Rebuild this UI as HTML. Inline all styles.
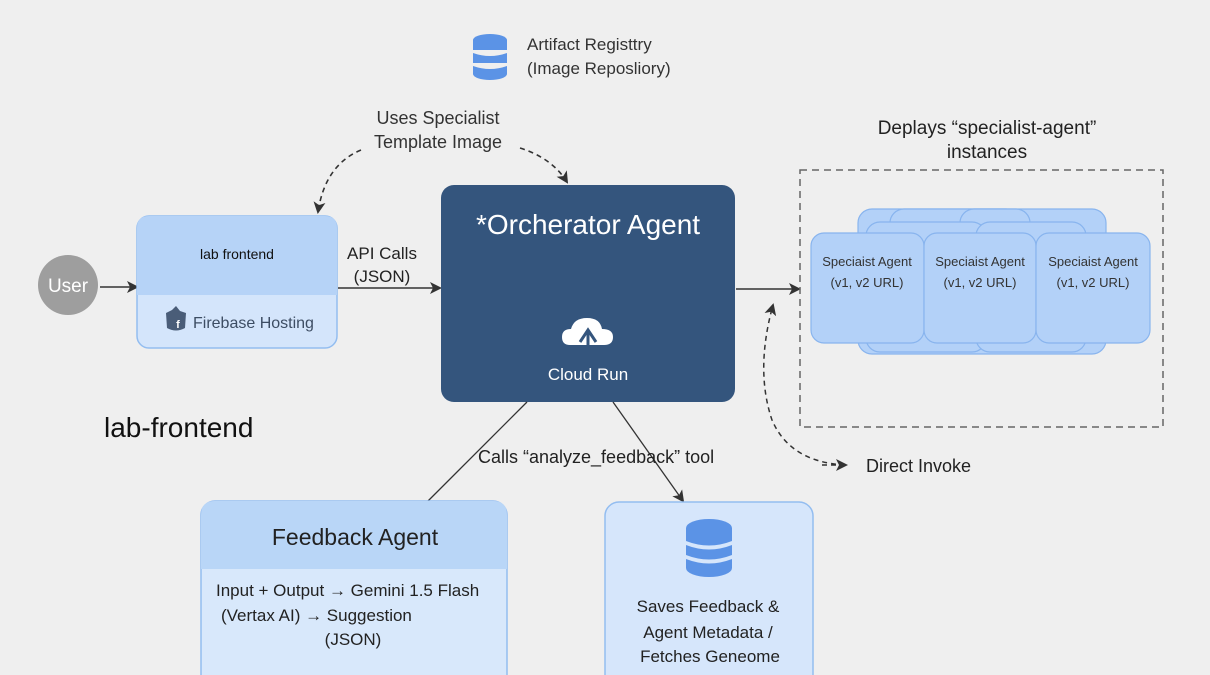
<!DOCTYPE html>
<html><head><meta charset="utf-8"><style>
html,body{margin:0;padding:0;background:#efefef;}
svg{display:block;font-family:"Liberation Sans","DejaVu Sans",sans-serif;}
</style></head><body>
<svg width="1210" height="675" viewBox="0 0 1210 675" xmlns="http://www.w3.org/2000/svg">
<defs>
<marker id="ah" markerWidth="12" markerHeight="12" refX="10" refY="6" orient="auto" markerUnits="userSpaceOnUse">
<path d="M0,0 L12,6 L0,12 L3,6 Z" fill="#333"/></marker>
</defs>
<rect width="1210" height="675" fill="#efefef"/>

<g fill="#5b93e6">
<ellipse cx="490" cy="40" rx="17" ry="6"/>
<rect x="473" y="40" width="34" height="10"/>
<rect x="473" y="53" width="34" height="10"/>
<rect x="473" y="66" width="34" height="8"/>
<ellipse cx="490" cy="74" rx="17" ry="6"/>
</g>
<g fill="#efefef"><path d="M473,50 Q490,56 507,50 L507,53 Q490,59 473,53Z"/><path d="M473,63 Q490,69 507,63 L507,66 Q490,72 473,66Z"/></g>
<text x="527" y="50" font-size="17" fill="#333">Artifact Registtry</text>
<text x="527" y="74" font-size="17" fill="#333">(Image Reposliory)</text>

<text x="438" y="124" font-size="18" fill="#333" text-anchor="middle">Uses Specialist</text>
<text x="438" y="148" font-size="18" fill="#333" text-anchor="middle">Template Image</text>
<path d="M361,150 Q325,165 318,212" fill="none" stroke="#333" stroke-width="1.6" stroke-dasharray="5,4" marker-end="url(#ah)"/>
<path d="M520,148 Q552,158 567,182" fill="none" stroke="#333" stroke-width="1.6" stroke-dasharray="5,4" marker-end="url(#ah)"/>

<circle cx="68" cy="285" r="30" fill="#9e9e9e"/>
<text x="68" y="292" font-size="19" fill="#fff" text-anchor="middle">User</text>
<line x1="100" y1="287" x2="137" y2="287" stroke="#333" stroke-width="1.5" marker-end="url(#ah)"/>

<rect x="137" y="216" width="200" height="132" rx="12" fill="#d4e5fb" stroke="#93bdf0" stroke-width="1.5"/>
<path d="M149,216 H325 Q337,216 337,228 V295 H137 V228 Q137,216 149,216Z" fill="#b6d3f7"/>
<text x="237" y="259" font-size="14" fill="#111" text-anchor="middle">lab frontend</text>
<path d="M166,313 L172,310 L176,306 L180,311 L186,313 L185,328 Q176,333 167,328Z" fill="#4a5d78"/>
<text x="178" y="328" font-size="11" fill="#fff" text-anchor="middle" font-weight="bold">f</text>
<text x="193" y="328" font-size="16" fill="#3d4d63">Firebase Hosting</text>

<text x="382" y="259" font-size="17" fill="#222" text-anchor="middle">API Calls</text>
<text x="382" y="282" font-size="17" fill="#222" text-anchor="middle">(JSON)</text>
<line x1="338" y1="288" x2="440" y2="288" stroke="#333" stroke-width="1.5" marker-end="url(#ah)"/>

<rect x="441" y="185" width="294" height="217" rx="13" fill="#34557d"/>
<text x="588" y="234" font-size="28" fill="#fff" text-anchor="middle">*Orcherator Agent</text>
<path d="M570,345 Q562,345 562,337 Q562,329 571,329 Q574,318 587,318 Q600,318 602,329 Q613,329 613,337 Q613,345 604,345Z" fill="#fff"/>
<path d="M580,342 L588,330 L596,342" fill="none" stroke="#34557d" stroke-width="3"/>
<line x1="588" y1="332" x2="588" y2="346" stroke="#34557d" stroke-width="3"/>
<text x="588" y="380" font-size="17" fill="#fff" text-anchor="middle">Cloud Run</text>

<line x1="736" y1="289" x2="799" y2="289" stroke="#333" stroke-width="1.5" marker-end="url(#ah)"/>

<text x="987" y="134" font-size="19" fill="#222" text-anchor="middle">Deplays “specialist-agent”</text>
<text x="987" y="158" font-size="19" fill="#222" text-anchor="middle">instances</text>
<rect x="800" y="170" width="363" height="257" fill="none" stroke="#666" stroke-width="1.5" stroke-dasharray="7,5"/>

<g fill="#b3d1f8" stroke="#88b4ee" stroke-width="1.2">
<rect x="858" y="209" width="248" height="145" rx="14"/>
<rect x="890" y="209" width="130" height="40" rx="14"/>
<rect x="960" y="209" width="70" height="40" rx="14"/>
<rect x="866" y="222" width="120" height="130" rx="14"/>
<rect x="976" y="222" width="110" height="130" rx="14"/>
<rect x="811" y="233" width="113" height="110" rx="13"/>
<rect x="924" y="233" width="112" height="110" rx="13"/>
<rect x="1036" y="233" width="114" height="110" rx="13"/>
</g>
<g font-size="13" fill="#333" text-anchor="middle">
<text x="867" y="266">Speciaist Agent</text><text x="867" y="287">(v1, v2 URL)</text>
<text x="980" y="266">Speciaist Agent</text><text x="980" y="287">(v1, v2 URL)</text>
<text x="1093" y="266">Speciaist Agent</text><text x="1093" y="287">(v1, v2 URL)</text>
</g>

<path d="M845,465 Q790,462 772,420 Q755,370 773,305" fill="none" stroke="#333" stroke-width="1.5" stroke-dasharray="5,4" marker-end="url(#ah)"/>
<line x1="822" y1="465" x2="846" y2="465" stroke="#333" stroke-width="1.5" stroke-dasharray="5,4" marker-end="url(#ah)"/>
<text x="866" y="472" font-size="18" fill="#222">Direct Invoke</text>

<text x="104" y="437" font-size="28" fill="#111">lab-frontend</text>

<line x1="527" y1="402" x2="428" y2="501" stroke="#333" stroke-width="1.3"/>
<line x1="613" y1="402" x2="683" y2="501" stroke="#333" stroke-width="1.3" marker-end="url(#ah)"/>
<text x="478" y="463" font-size="18" fill="#222">Calls “analyze_feedback” tool</text>

<rect x="201" y="501" width="306" height="190" rx="14" fill="#d8e8fb" stroke="#93bdf0" stroke-width="1.5"/>
<path d="M215,501 H493 Q507,501 507,515 V569 H201 V515 Q201,501 215,501Z" fill="#b9d6f7"/>
<text x="355" y="545" font-size="23" fill="#222" text-anchor="middle">Feedback Agent</text>
<text x="216" y="596" font-size="17" fill="#222">Input + Output → Gemini 1.5 Flash</text>
<text x="221" y="621" font-size="17" fill="#222">(Vertax AI) → Suggestion</text>
<text x="353" y="645" font-size="17" fill="#222" text-anchor="middle">(JSON)</text>

<rect x="605" y="502" width="208" height="190" rx="14" fill="#d6e6fb" stroke="#93bdf0" stroke-width="1.5"/>
<g fill="#5b93e6">
<ellipse cx="709" cy="528" rx="23" ry="9"/>
<rect x="686" y="528" width="46" height="40"/>
<ellipse cx="709" cy="568" rx="23" ry="9"/>
</g>
<g fill="#d6e6fb"><path d="M686,541 Q709,550 732,541 L732,545 Q709,554 686,545Z"/><path d="M686,555 Q709,564 732,555 L732,559 Q709,568 686,559Z"/></g>
<text x="708" y="612" font-size="17" fill="#222" text-anchor="middle">Saves Feedback &amp;</text>
<text x="708" y="638" font-size="17" fill="#222" text-anchor="middle">Agent Metadata /</text>
<text x="710" y="662" font-size="17" fill="#222" text-anchor="middle">Fetches Geneome</text>
</svg>
</body></html>
